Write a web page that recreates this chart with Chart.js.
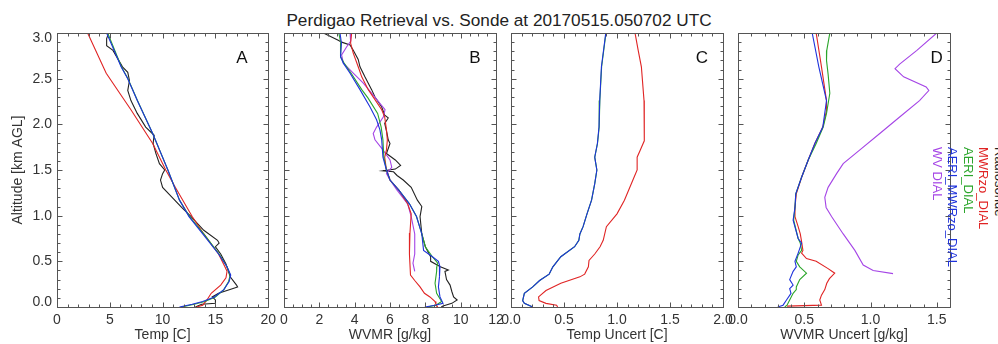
<!DOCTYPE html>
<html><head><meta charset="utf-8">
<script src="https://cdn.jsdelivr.net/npm/chart.js@4.4.1/dist/chart.umd.min.js"></script>
<style>
html,body{margin:0;padding:0;background:#fff;overflow:hidden}
#wrap{position:relative;width:998px;height:344px;overflow:hidden;background:#fff;font-family:"Liberation Sans",Arial,Helvetica,sans-serif}
canvas{position:absolute;top:0}
#title{position:absolute;left:0;width:998px;top:12px;text-align:center;font-size:17.2px;line-height:17px;color:#222;white-space:nowrap}
.leg{position:absolute;top:147px;font-size:13px;line-height:16px;white-space:nowrap;transform-origin:0 0;transform:rotate(90deg)}
</style></head><body>
<div id="wrap">
<div id="title">Perdigao Retrieval vs. Sonde at 20170515.050702 UTC</div>
<canvas id="cA" width="281" height="344" style="left:0px"></canvas>
<canvas id="cB" width="242" height="344" style="left:269px"></canvas>
<canvas id="cC" width="242" height="344" style="left:496px"></canvas>
<canvas id="cD" width="242" height="344" style="left:723px"></canvas>
<div id="legend"></div>
</div>
<script>
// ---------- series names & colours ----------
const SERIES = ['Radiosonde', 'MWRzo_DIAL', 'AERI_DIAL', 'AERI_MWRzo_DIAL', 'WV DIAL'];
const COLORS = ['#222222', '#e02424', '#2aa52a', '#1e32dc', '#a545e6'];

// ---------- tick labels ----------
const TICKS_Y = [0, 0.5, 1.0, 1.5, 2.0, 2.5, 3.0];
const TICKS_A = [0, 5, 10, 15, 20];
const TICKS_B = [0, 2, 4, 6, 8, 10, 12];
const TICKS_C = [0, 0.5, 1.0, 1.5, 2.0];
const TICKS_D = [0, 0.5, 1.0, 1.5];

// ---------- Panel A: temperature [C] ----------
const A_SONDE_ALT = [3.0,2.94,2.86,2.81,2.63,2.57,2.48,2.37,2.26,2.12,1.97,1.88,1.79,1.68,1.57,1.50,1.46,1.39,1.31,1.20,1.09,0.99,0.84,0.73,0.70,0.66,0.58,0.47,0.33,0.24,0.22,0.20,0.15,0.11,0.077,0.04,0.03,0.0];
const A_SONDE     = [4.9,4.7,4.7,5.3,6.2,6.7,6.86,6.7,7.0,7.6,8.4,9.2,9.1,9.37,9.7,10.2,10.0,9.8,10.0,10.9,11.8,12.7,13.9,15.2,15.35,15.0,15.5,16.0,16.4,17.0,17.1,16.6,15.3,14.7,15.0,15.0,13.7,13.1];
const A_MWR_ALT = [3.0,2.56,2.16,1.79,1.50,1.31,0.99,0.80,0.58,0.44,0.39,0.32,0.24,0.15,0.077,0.02,0.0];
const A_MWR     = [2.9,4.66,7.0,9.06,10.3,11.2,12.8,13.9,15.3,15.9,16.1,16.0,15.5,14.6,14.2,13.8,13.2];
const A_RET_ALT = [3.0,2.63,2.5,2.26,1.90,1.50,1.17,0.99,0.80,0.58,0.44,0.35,0.28,0.19,0.11,0.06,0.03,0.0];
const A_AERI    = [4.8,6.1,6.72,7.62,9.06,10.5,11.6,12.55,13.9,15.35,16.1,16.4,16.25,15.8,15.0,14.0,13.0,11.8];
const A_AERIMWR = [4.7,6.07,6.7,7.6,9.06,10.5,11.6,12.5,13.8,15.3,16.1,16.45,16.3,15.8,14.9,13.8,12.8,11.6];

// ---------- Panel B: WVMR [g/kg] ----------
const B_SONDE_ALT = [3.0,2.92,2.90,2.87,2.81,2.71,2.63,2.52,2.45,2.38,2.30,2.19,2.10,2.07,2.01,1.90,1.83,1.79,1.68,1.61,1.55,1.51,1.49,1.48,1.44,1.39,1.31,1.17,1.10,0.99,0.80,0.66,0.55,0.50,0.44,0.405,0.39,0.30,0.24,0.17,0.11,0.077,0.04,0.01,0.0];
const B_SONDE     = [2.23,3.07,3.26,3.74,3.92,4.2,4.3,4.58,4.77,4.96,5.15,5.53,5.7,5.9,5.7,5.83,5.9,6.0,5.8,6.3,6.6,6.3,5.6,6.2,6.4,6.75,7.2,7.55,7.8,7.7,7.8,8.0,8.3,8.3,8.85,9.3,9.11,9.2,9.4,9.5,9.6,9.8,9.5,9.0,8.9];
const B_MWR_ALT = [3.0,2.89,2.78,2.63,2.52,2.38,2.27,2.16,2.08,1.94,1.83,1.72,1.64,1.50,1.39,1.28,1.13,1.02,0.81,0.58,0.35,0.29,0.22,0.15,0.11,0.06,0.03,0.0];
const B_MWR     = [3.83,3.77,3.92,4.2,4.4,4.77,5.15,5.53,5.7,5.8,5.85,5.8,5.7,5.8,6.0,6.5,7.0,7.2,7.13,7.1,7.16,7.4,7.7,7.95,8.26,8.55,8.6,8.7];
const B_AERI_ALT = [3.0,2.89,2.74,2.67,2.56,2.38,2.29,2.12,1.97,1.83,1.64,1.50,1.39,1.28,1.13,0.99,0.80,0.66,0.55,0.48,0.44,0.39,0.26,0.15,0.06,0.02,0.0];
const B_AERI     = [3.1,3.22,3.2,3.4,3.8,4.4,4.75,5.3,5.5,5.6,5.65,5.8,6.0,6.5,7.1,7.5,7.8,8.0,8.4,8.7,8.65,8.64,8.55,8.64,8.92,8.6,8.1];
const B_AM_ALT = [3.0,2.89,2.74,2.67,2.56,2.38,2.19,2.05,1.94,1.83,1.64,1.50,1.39,1.28,1.13,0.99,0.80,0.62,0.55,0.50,0.44,0.33,0.22,0.11,0.04,0.02,0.0];
const B_AERIMWR = [3.17,3.25,3.2,3.36,3.74,4.3,4.87,5.24,5.43,5.53,5.6,5.8,6.0,6.5,7.1,7.5,7.8,7.9,8.4,8.74,8.83,8.8,8.74,8.83,9.0,8.55,7.97];
const B_DIAL_ALT = [3.0,2.91,2.85,2.76,2.67,2.56,2.45,2.32,2.23,2.16,2.08,1.97,1.90,1.83,1.72,1.61,1.53,1.46,1.39,1.28,1.13,0.99,0.80,0.58,0.48,0.39];
const B_DIAL     = [3.74,3.77,3.55,3.26,3.36,3.92,4.49,5.05,5.43,5.72,5.62,5.24,5.05,5.15,5.6,6.0,6.1,5.8,6.0,6.4,7.0,7.2,7.4,7.4,7.3,7.4];

// ---------- Panel C: temperature uncertainty [C] ----------
const C_RET_ALT = [3.0,2.63,2.26,1.97,1.79,1.64,1.57,1.50,1.35,1.17,1.02,0.88,0.80,0.73,0.66,0.55,0.44,0.36,0.29,0.22,0.15,0.07,0.04,0.0];
const C_AERI    = [0.896,0.855,0.838,0.832,0.816,0.79,0.80,0.81,0.79,0.76,0.717,0.68,0.65,0.64,0.60,0.47,0.395,0.36,0.27,0.205,0.126,0.11,0.126,0.205];
const C_AERIMWR = [0.894,0.853,0.837,0.83,0.815,0.79,0.80,0.81,0.79,0.76,0.717,0.68,0.65,0.64,0.60,0.47,0.395,0.36,0.27,0.205,0.126,0.11,0.126,0.205];
const C_MWR_ALT = [3.0,2.81,2.63,2.26,1.97,1.82,1.72,1.64,1.50,1.39,1.17,1.02,0.88,0.73,0.66,0.58,0.51,0.44,0.36,0.33,0.26,0.18,0.11,0.07,0.04,0.02,0.0];
const C_MWR     = [1.17,1.2,1.23,1.255,1.26,1.255,1.22,1.19,1.19,1.15,1.07,1.0,0.9,0.87,0.84,0.79,0.736,0.73,0.695,0.65,0.47,0.33,0.26,0.265,0.33,0.43,0.44];

// ---------- Panel D: WVMR uncertainty [g/kg] ----------
const D_MWR_ALT = [3.0,2.63,2.26,2.15,1.97,1.79,1.61,1.42,1.24,1.09,0.99,0.88,0.80,0.715,0.62,0.59,0.53,0.50,0.42,0.37,0.31,0.26,0.19,0.13,0.077,0.02,0.01];
const D_MWR     = [0.59,0.63,0.668,0.668,0.64,0.58,0.53,0.48,0.44,0.43,0.43,0.454,0.47,0.48,0.49,0.48,0.517,0.59,0.68,0.73,0.69,0.67,0.655,0.63,0.617,0.63,0.37];
const D_AERI_ALT = [3.0,2.81,2.70,2.55,2.34,2.12,1.97,1.79,1.61,1.42,1.24,1.09,0.95,0.75,0.70,0.62,0.57,0.50,0.44,0.37,0.30,0.22,0.19,0.15,0.077,0.02,0.0];
const D_AERI     = [0.693,0.67,0.668,0.68,0.693,0.668,0.643,0.59,0.53,0.48,0.436,0.43,0.42,0.454,0.47,0.48,0.454,0.44,0.466,0.517,0.466,0.44,0.44,0.416,0.39,0.37,0.353];
const D_AM_ALT = [3.0,2.63,2.26,1.97,1.79,1.61,1.42,1.24,1.09,0.95,0.75,0.70,0.59,0.50,0.44,0.39,0.30,0.24,0.20,0.15,0.077,0.02,0.0];
const D_AERIMWR = [0.56,0.61,0.668,0.64,0.58,0.53,0.48,0.436,0.43,0.416,0.454,0.48,0.454,0.43,0.44,0.416,0.39,0.416,0.39,0.40,0.366,0.34,0.30];
const D_DIAL_ALT = [3.0,2.81,2.66,2.61,2.52,2.41,2.37,2.26,2.08,1.90,1.72,1.57,1.46,1.31,1.20,1.09,0.99,0.80,0.62,0.46,0.40,0.365];
const D_DIAL     = [1.5,1.35,1.22,1.185,1.25,1.42,1.44,1.37,1.22,1.07,0.92,0.794,0.744,0.68,0.655,0.665,0.706,0.794,0.882,0.945,1.02,1.17];

// ---------- helpers ----------
const FONT = '"Liberation Sans", Arial, Helvetica, sans-serif';
const pts = (alt, val) => val.map((v, i) => ({x: v, y: alt[i]}));
// draw order: AERI_MWRzo on top, then AERI, MWRzo, WV DIAL, sonde below
const ORDER = [4, 2, 1, 0, 3];
function ds(k, alt, val) {
  return {label: SERIES[k], data: pts(alt, val), showLine: true, borderColor: COLORS[k],
          borderWidth: 1.1, pointRadius: 0, pointHoverRadius: 0, tension: 0, order: ORDER[k], fill: false};
}

const idlPlugin = {
  id: 'idl',
  afterDatasetsDraw(chart, args, o) {
    const {ctx, chartArea: a, scales: {x, y}} = chart;
    const L = Math.round(a.left) + 0.5, R = Math.round(a.right) + 0.5;
    const T = Math.round(a.top) + 0.5, B = Math.round(a.bottom) + 0.5;
    ctx.save();
    ctx.strokeStyle = '#555';
    ctx.lineWidth = 1;
    ctx.beginPath();
    ctx.rect(L, T, R - L, B - T);
    const xt = (v, len) => { const p = Math.round(x.getPixelForValue(v)) + 0.5;
      ctx.moveTo(p, B); ctx.lineTo(p, B - len); ctx.moveTo(p, T); ctx.lineTo(p, T + len); };
    const yt = (v, len) => { const p = Math.round(y.getPixelForValue(v)) + 0.5;
      ctx.moveTo(L, p); ctx.lineTo(L + len, p); ctx.moveTo(R, p); ctx.lineTo(R - len, p); };
    const nx = Math.round((x.max - x.min) / o.xMinor);
    for (let i = 0; i <= nx; i++) xt(x.min + i * o.xMinor, 3);
    o.xMajor.forEach(v => xt(v, 5));
    const ny = Math.round((y.max - y.min) / 0.1);
    for (let i = 0; i <= ny; i++) yt(y.min + i * 0.1, 3);
    TICKS_Y.forEach(v => yt(v, 5));
    ctx.stroke();
    // panel letter
    ctx.fillStyle = '#111';
    ctx.font = '17px ' + FONT;
    ctx.textAlign = 'center';
    ctx.textBaseline = 'alphabetic';
    ctx.fillText(o.letter, x.getPixelForValue(o.letterX), 63);
    // altitude tick labels (end labels kept inside the frame)
    if (o.yLabels) {
      ctx.fillStyle = '#333';
      ctx.font = '14px ' + FONT;
      ctx.textAlign = 'right';
      ctx.textBaseline = 'middle';
      TICKS_Y.forEach(v => {
        let p = y.getPixelForValue(v);
        p = Math.min(Math.max(p, a.top + 5), a.bottom - 4.5);
        ctx.fillText(v.toFixed(1), a.left - 5, p);
      });
    }
    ctx.restore();
  }
};

function panel(id, opt) {
  const first = opt.yTitle !== undefined;
  return new Chart(document.getElementById(id), {
    type: 'scatter',
    data: {datasets: opt.datasets},
    plugins: [idlPlugin],
    options: {
      responsive: false, animation: false, events: [],
      layout: {padding: {top: 33, bottom: 0, left: 0, right: first ? 12 : 15}},
      plugins: {legend: {display: false}, tooltip: {enabled: false},
        idl: {xMajor: opt.ticks, xMinor: opt.minor, letter: opt.letter, letterX: opt.letterX, yLabels: first}},
      scales: {
        x: {type: 'linear', position: 'bottom', min: opt.min, max: opt.max,
          afterBuildTicks: s => { s.ticks = opt.ticks.map(v => ({value: v})); },
          afterFit: s => { s.height = 37; },
          grid: {display: false, drawTicks: false, tickLength: 0}, border: {display: false},
          ticks: {padding: 5, color: '#333', font: {family: FONT, size: 14}, maxRotation: 0, autoSkip: false,
                  callback: v => opt.fmt(v)},
          title: {display: true, text: opt.xTitle, color: '#333', font: {family: FONT, size: 14}, padding: {top: 0, bottom: 0}}},
        y: {type: 'linear', position: 'left', min: 0, max: 3, display: true,
          afterBuildTicks: s => { s.ticks = TICKS_Y.map(v => ({value: v})); },
          afterFit: s => { s.width = first ? 57 : 15; },
          grid: {display: false, drawTicks: false, tickLength: 0}, border: {display: false},
          ticks: {display: false},
          title: {display: first, text: opt.yTitle || '', color: '#333', font: {family: FONT, size: 14}, padding: {top: 9.6, bottom: 0}}}
      }
    }
  });
}

const int = v => String(v);
const one = v => v.toFixed(1);

panel('cA', {min: 0, max: 20, ticks: TICKS_A, minor: 1, fmt: int, letter: 'A', letterX: 17.5,
  xTitle: 'Temp [C]', yTitle: 'Altitude [km AGL]',
  datasets: [ds(0, A_SONDE_ALT, A_SONDE), ds(1, A_MWR_ALT, A_MWR), ds(2, A_RET_ALT, A_AERI), ds(3, A_RET_ALT, A_AERIMWR)]});
panel('cB', {min: 0, max: 12, ticks: TICKS_B, minor: 0.5, fmt: int, letter: 'B', letterX: 10.8,
  xTitle: 'WVMR [g/kg]',
  datasets: [ds(0, B_SONDE_ALT, B_SONDE), ds(1, B_MWR_ALT, B_MWR), ds(2, B_AERI_ALT, B_AERI), ds(3, B_AM_ALT, B_AERIMWR), ds(4, B_DIAL_ALT, B_DIAL)]});
panel('cC', {min: 0, max: 2, ticks: TICKS_C, minor: 0.1, fmt: one, letter: 'C', letterX: 1.8,
  xTitle: 'Temp Uncert [C]',
  datasets: [ds(1, C_MWR_ALT, C_MWR), ds(2, C_RET_ALT, C_AERI), ds(3, C_RET_ALT, C_AERIMWR)]});
panel('cD', {min: 0, max: 1.6, ticks: TICKS_D, minor: 0.1, fmt: one, letter: 'D', letterX: 1.5,
  xTitle: 'WVMR Uncert [g/kg]',
  datasets: [ds(1, D_MWR_ALT, D_MWR), ds(2, D_AERI_ALT, D_AERI), ds(3, D_AM_ALT, D_AERIMWR), ds(4, D_DIAL_ALT, D_DIAL)]});

// rotated legend (first entry partly outside the window, as in the original)
const LEG_LEFT = [1006.5, 991, 975.5, 960, 944.5];
const leg = document.getElementById('legend');
SERIES.forEach((name, k) => {
  const d = document.createElement('div');
  d.className = 'leg';
  d.style.left = LEG_LEFT[k] + 'px';
  d.style.color = COLORS[k];
  d.textContent = name;
  leg.appendChild(d);
});
</script>
</body></html>
